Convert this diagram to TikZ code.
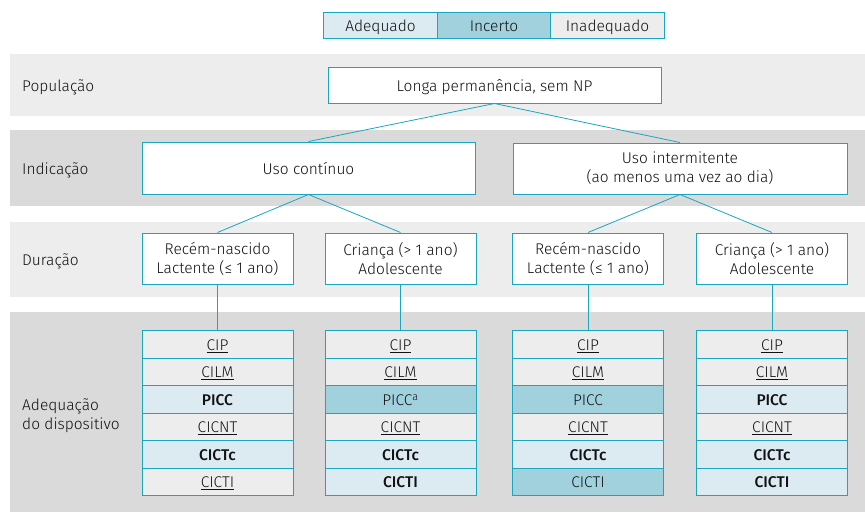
\documentclass[tikz,border=0pt]{standalone}
\usepackage{fontspec}
\setmainfont{Fira Sans Light}[BoldFont={Fira Sans Medium}]
\definecolor{lineblue}{HTML}{1AA6BF}
\definecolor{bandlight}{HTML}{EDEDED}
\definecolor{banddark}{HTML}{DADADA}
\definecolor{adeqfill}{HTML}{DCEBF2}
\definecolor{incfill}{HTML}{A2D1DE}
\definecolor{inadfill}{HTML}{EDEDED}
\definecolor{txt}{HTML}{111111}

\begin{document}
\begin{tikzpicture}[x=1pt, y=-1pt, font=\fontsize{15.5}{19}\selectfont, text=txt,
  band/.style={fill=#1, draw=none},
  oneline/.style={text height=12.4pt, text depth=0pt},
  box/.style={draw=lineblue, line width=1pt, fill=white, align=center, inner sep=0pt},
  cell/.style={oneline, draw=lineblue, line width=0.8pt, minimum width=151pt, minimum height=27.5pt, inner sep=0pt, anchor=north},
  adeq/.style={cell, fill=adeqfill, font=\fontsize{15.5}{19}\selectfont\bfseries},
  inc/.style={cell, fill=incfill},
  inad/.style={cell, fill=inadfill},
  legend/.style={oneline, draw=lineblue, line width=1pt, minimum width=113.5pt, minimum height=26pt, inner sep=0pt, fill=#1},
  rowlabel/.style={anchor=west, inner sep=0pt, align=left},
  link/.style={draw=lineblue, line width=0.8pt}]
\useasboundingbox (0,0) rectangle (865,512);
\path[band=bandlight] (10,54) rectangle (865,115.5);
\path[band=banddark] (10,130) rectangle (865,205.5);
\path[band=bandlight] (10,222) rectangle (865,297);
\path[band=banddark] (10,312) rectangle (865,512);

\node[legend=adeqfill] (leg1) at (380.5,25) {Adequado};
\node[legend=incfill] (leg2) at (494,25) {Incerto};
\node[legend=inadfill] (leg3) at (607.5,25) {Inadequado};

\node[rowlabel, oneline] (lpop) at (22,85) {População};
\node[rowlabel, oneline] (lind) at (22,168) {Indicação};
\node[rowlabel, oneline] (ldur) at (22,259) {Duração};
\node[rowlabel] (ladeq) at (22,415.5) {Adequação\\do dispositivo};

\node[box, oneline, minimum width=333pt, minimum height=36pt] (pop) at (494.5,85) {Longa permanência, sem NP};
\node[box, oneline, minimum width=333pt, minimum height=52pt] (ind1) at (308.5,168) {Uso contínuo};
\node[box, minimum width=334pt, minimum height=51pt] (ind2) at (680,168.5) {Uso intermitente\\(ao menos uma vez ao dia)};
\node[box, minimum width=151pt, minimum height=51pt] (dur1) at (217.5,258.5) {Recém-nascido\\Lactente (≤ 1 ano)};
\node[box, minimum width=151pt, minimum height=51pt] (dur2) at (400.5,258.5) {Criança (> 1 ano)\\Adolescente};
\node[box, minimum width=151pt, minimum height=51pt] (dur3) at (588,258.5) {Recém-nascido\\Lactente (≤ 1 ano)};
\node[box, minimum width=151pt, minimum height=51pt] (dur4) at (772,258.5) {Criança (> 1 ano)\\Adolescente};

\foreach \s/\t [count=\r] in {inad/\underline{CIP}, inad/\underline{CILM}, adeq/PICC, inad/\underline{CICNT}, adeq/CICTc, inad/\underline{CICTI}}
  \node[\s] (c1-\r) at (217.5,{330+27.5*(\r-1)}) {\t};
\foreach \s/\t [count=\r] in {inad/\underline{CIP}, inad/\underline{CILM}, inc/PICC\textsuperscript{a}, inad/\underline{CICNT}, adeq/CICTc, adeq/CICTI}
  \node[\s] (c2-\r) at (400.5,{330+27.5*(\r-1)}) {\t};
\foreach \s/\t [count=\r] in {inad/\underline{CIP}, inad/\underline{CILM}, inc/PICC, inad/\underline{CICNT}, adeq/CICTc, inc/CICTI}
  \node[\s] (c3-\r) at (588,{330+27.5*(\r-1)}) {\t};
\foreach \s/\t [count=\r] in {inad/\underline{CIP}, inad/\underline{CILM}, adeq/PICC, inad/\underline{CICNT}, adeq/CICTc, adeq/CICTI}
  \node[\s] (c4-\r) at (772,{330+27.5*(\r-1)}) {\t};

\draw[link] (ind1.north) -- (pop.south) -- (ind2.north);
\draw[link] (dur1.north) -- (ind1.south) -- (dur2.north);
\draw[link] (dur3.north) -- (ind2.south) -- (dur4.north);
\foreach \i in {1,...,4}
  \draw[link] (dur\i.south) -- (c\i-1.north);
\end{tikzpicture}
\end{document}
